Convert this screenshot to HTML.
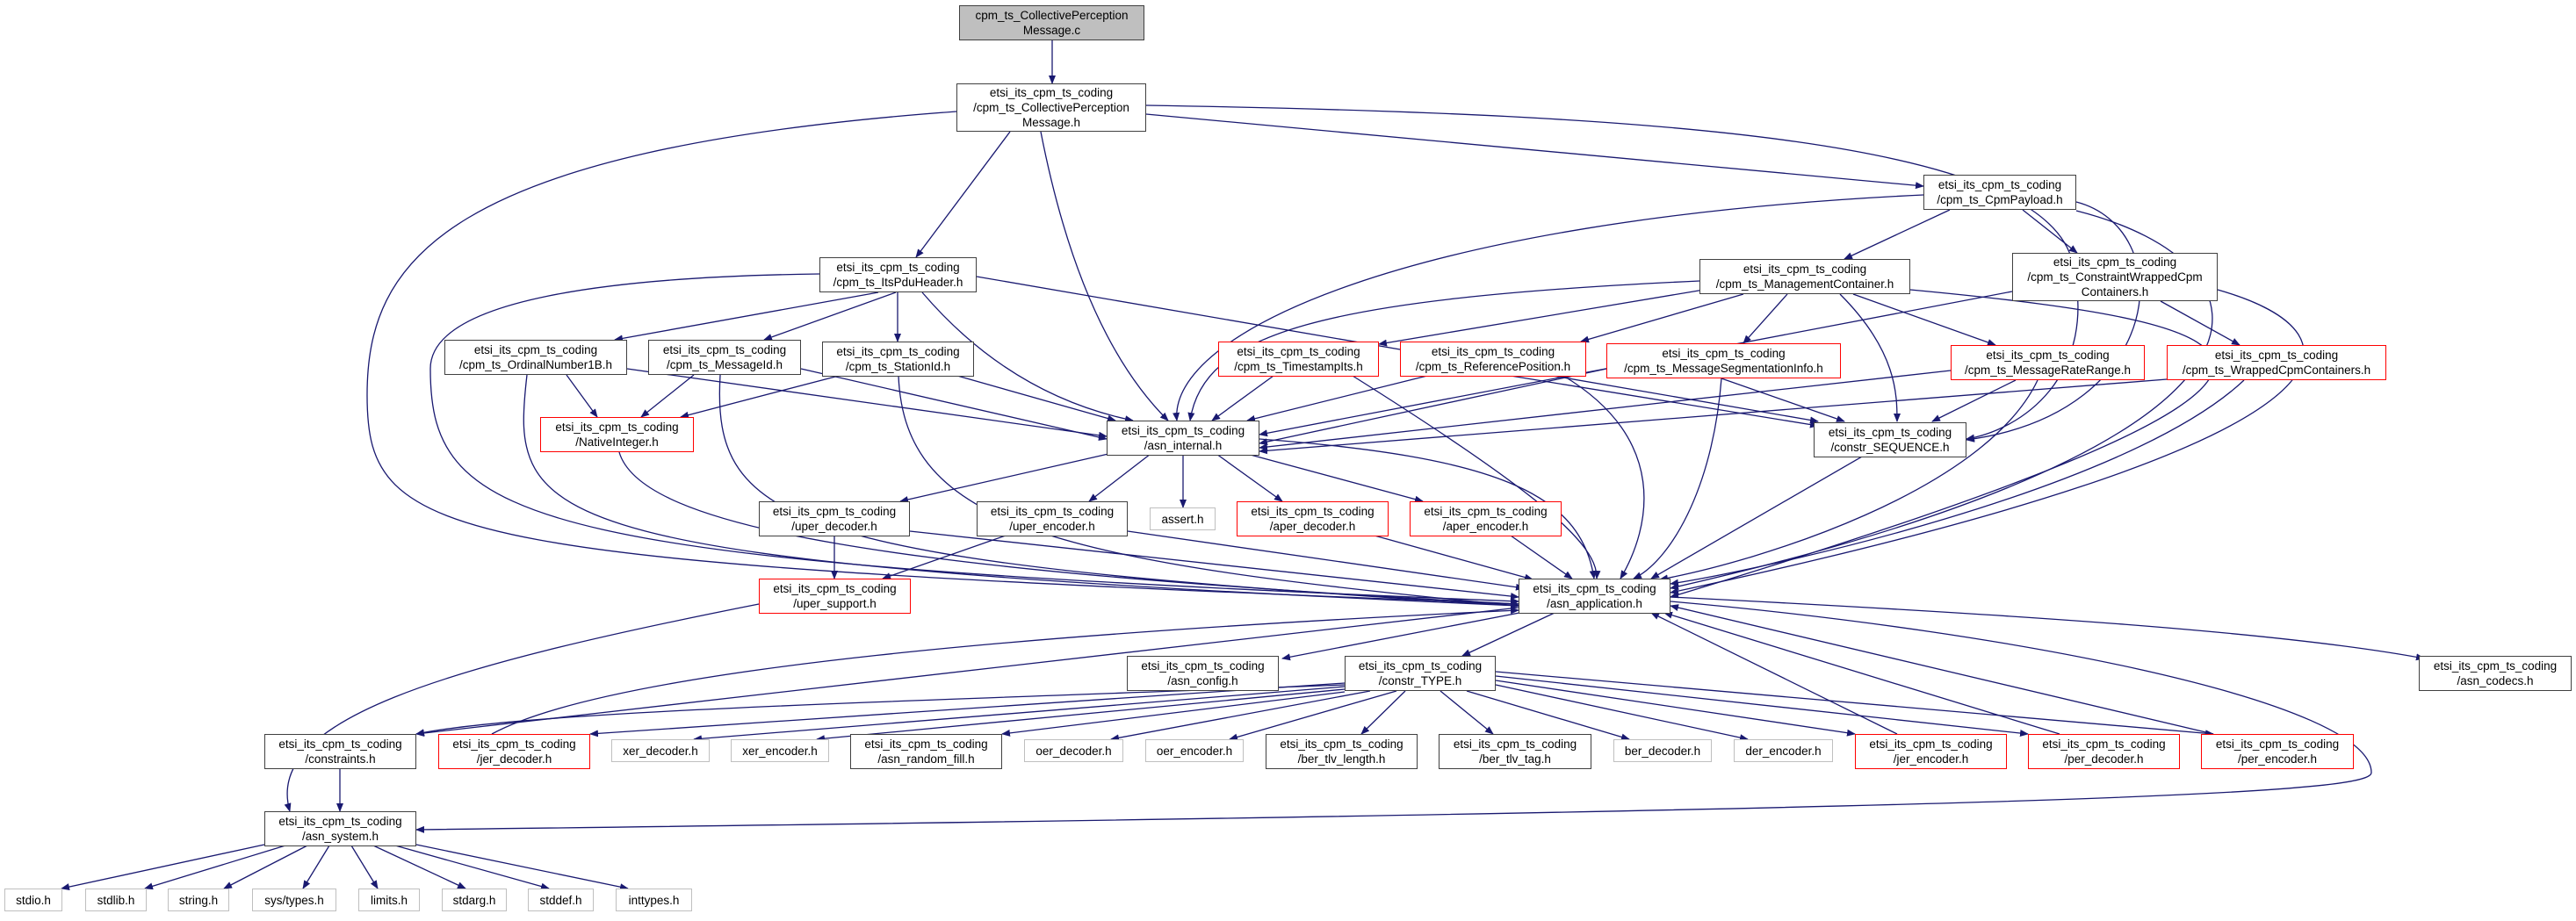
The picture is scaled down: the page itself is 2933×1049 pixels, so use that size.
<!DOCTYPE html>
<html><head><meta charset="utf-8"><style>
html,body{margin:0;padding:0;background:#fff;}
#c{position:relative;width:2933px;height:1049px;overflow:hidden;}
svg{position:absolute;left:0;top:0;}
.n{position:absolute;box-sizing:border-box;background:#fff;border:1.5px solid #404040;font-family:"Liberation Sans",sans-serif;font-size:13.5px;line-height:17px;color:#000;display:flex;align-items:center;justify-content:center;text-align:center;white-space:nowrap;}
.r{border-color:#ff0000;}
.g{border-color:#bfbfbf;}
.t{background:#bfbfbf;}
</style></head><body><div id="c">
<svg width="2933" height="1049" viewBox="0 0 2933 1049">
<defs><marker id="a" markerWidth="10" markerHeight="8" refX="9" refY="4" orient="auto" markerUnits="userSpaceOnUse"><path d="M0,0 L10,4 L0,8 z" fill="#191970"/></marker></defs>
<g fill="none" stroke="#191970" stroke-width="1.3" marker-end="url(#a)">
<path d="M1198 46 L1198 95"/>
<path d="M1150 150 L1043 293"/>
<path d="M1185 150 Q1230 380 1330 479"/>
<path d="M1089 127 C500 170 418 300 418 450 C418 620 500 640 1729 688"/>
<path d="M1305 130 L2190 212"/>
<path d="M1305 120 C1900 130 2330 160 2360 300 C2390 430 2300 490 2239 500"/>
<path d="M1000 333 L700 387"/>
<path d="M1020 333 L870 387"/>
<path d="M1022 333 L1022 389"/>
<path d="M1050 333 Q1150 450 1290 479"/>
<path d="M1112 315 L2070 480"/>
<path d="M933 312 C700 315 490 340 490 420 C490 600 600 640 1729 685"/>
<path d="M2220 239 L2100 295"/>
<path d="M2303 239 L2365 288"/>
<path d="M2190 222 C1600 250 1330 380 1340 479"/>
<path d="M2364 230 C2480 260 2470 470 2239 501"/>
<path d="M2364 240 C2600 300 2650 500 1902 670"/>
<path d="M1940 330 L1570 392"/>
<path d="M1985 335 L1800 389"/>
<path d="M2035 335 L1985 391"/>
<path d="M2110 335 L2272 393"/>
<path d="M1935 320 C1500 340 1370 380 1355 479"/>
<path d="M2095 335 C2160 400 2160 450 2160 480"/>
<path d="M2175 330 C2600 370 2760 420 1902 680"/>
<path d="M2460 343 L2550 393"/>
<path d="M2291 332 L1434 495"/>
<path d="M2525 330 C2700 380 2720 500 1902 675"/>
<path d="M645 427 L680 475"/>
<path d="M714 420 L1260 497"/>
<path d="M600 427 C580 600 600 640 1729 690"/>
<path d="M790 427 L730 475"/>
<path d="M912 420 L1260 500"/>
<path d="M820 427 C810 600 900 640 1729 690"/>
<path d="M955 428 L775 475"/>
<path d="M1090 428 L1270 479"/>
<path d="M1023 428 C1030 600 1200 640 1729 690"/>
<path d="M1450 428 L1380 479"/>
<path d="M1540 428 C1750 560 1820 620 1818 659"/>
<path d="M1625 428 L1420 479"/>
<path d="M1720 428 L2070 485"/>
<path d="M1780 428 C1900 500 1880 600 1845 659"/>
<path d="M1829 420 L1434 505"/>
<path d="M1960 431 L2100 480"/>
<path d="M1960 431 C1950 560 1900 640 1860 659"/>
<path d="M2221 422 L1434 510"/>
<path d="M2295 433 L2200 480"/>
<path d="M2320 433 C2260 560 2000 640 1890 660"/>
<path d="M2467 432 L1434 514"/>
<path d="M2555 433 C2420 560 2000 650 1902 665"/>
<path d="M705 515 C730 600 1000 650 1729 688"/>
<path d="M1262 517 L1025 571"/>
<path d="M1310 517 L1240 571"/>
<path d="M1347 517 L1347 578"/>
<path d="M1385 517 L1460 571"/>
<path d="M1420 517 L1620 571"/>
<path d="M1434 500 C1700 520 1800 560 1815 659"/>
<path d="M2120 520 L1880 659"/>
<path d="M950 610 L950 659"/>
<path d="M1036 605 L1729 680"/>
<path d="M1145 610 L1005 659"/>
<path d="M1284 605 L1735 670"/>
<path d="M1565 610 L1745 660"/>
<path d="M1720 610 L1790 659"/>
<path d="M864 688 C500 760 300 820 330 924"/>
<path d="M1730 698 L1460 750"/>
<path d="M1770 698 L1665 747"/>
<path d="M1902 680 C2300 700 2600 720 2760 750"/>
<path d="M1729 692 L474 836"/>
<path d="M1902 685 C2300 720 2700 800 2700 880 C2700 900 2500 920 474 945"/>
<path d="M1531 780 C1000 800 600 810 474 836"/>
<path d="M1531 778 L672 836"/>
<path d="M1531 782 L790 842"/>
<path d="M1531 785 L930 842"/>
<path d="M1531 788 L1141 836"/>
<path d="M1560 787 L1265 842"/>
<path d="M1590 787 L1400 842"/>
<path d="M1600 787 L1550 836"/>
<path d="M1640 787 L1700 836"/>
<path d="M1670 787 L1855 842"/>
<path d="M1703 780 L1990 842"/>
<path d="M1703 775 L2112 836"/>
<path d="M1703 770 L2309 836"/>
<path d="M1703 765 L2520 836"/>
<path d="M2160 836 L1880 698"/>
<path d="M2345 836 L1895 698"/>
<path d="M2520 836 L1902 690"/>
<path d="M560 836 C700 760 1200 720 1729 695"/>
<path d="M387 875 L387 924"/>
<path d="M301 962 L70 1012"/>
<path d="M325 963 L165 1012"/>
<path d="M350 963 L255 1012"/>
<path d="M375 963 L345 1012"/>
<path d="M400 963 L430 1012"/>
<path d="M425 963 L530 1012"/>
<path d="M450 963 L625 1012"/>
<path d="M474 962 L715 1012"/>
</g></svg>

<div class="n t" style="left:1092px;top:6px;width:211px;height:40px">cpm_ts_CollectivePerception<br>Message.c</div>
<div class="n" style="left:1089px;top:95px;width:216px;height:55px">etsi_its_cpm_ts_coding<br>/cpm_ts_CollectivePerception<br>Message.h</div>
<div class="n" style="left:933px;top:293px;width:179px;height:40px">etsi_its_cpm_ts_coding<br>/cpm_ts_ItsPduHeader.h</div>
<div class="n" style="left:2190px;top:199px;width:174px;height:40px">etsi_its_cpm_ts_coding<br>/cpm_ts_CpmPayload.h</div>
<div class="n" style="left:1935px;top:295px;width:240px;height:40px">etsi_its_cpm_ts_coding<br>/cpm_ts_ManagementContainer.h</div>
<div class="n" style="left:2291px;top:288px;width:234px;height:55px">etsi_its_cpm_ts_coding<br>/cpm_ts_ConstraintWrappedCpm<br>Containers.h</div>
<div class="n" style="left:506px;top:387px;width:208px;height:40px">etsi_its_cpm_ts_coding<br>/cpm_ts_OrdinalNumber1B.h</div>
<div class="n" style="left:738px;top:387px;width:174px;height:40px">etsi_its_cpm_ts_coding<br>/cpm_ts_MessageId.h</div>
<div class="n" style="left:936px;top:389px;width:173px;height:40px">etsi_its_cpm_ts_coding<br>/cpm_ts_StationId.h</div>
<div class="n r" style="left:1387px;top:389px;width:183px;height:40px">etsi_its_cpm_ts_coding<br>/cpm_ts_TimestampIts.h</div>
<div class="n r" style="left:1594px;top:389px;width:212px;height:40px">etsi_its_cpm_ts_coding<br>/cpm_ts_ReferencePosition.h</div>
<div class="n r" style="left:1829px;top:391px;width:267px;height:40px">etsi_its_cpm_ts_coding<br>/cpm_ts_MessageSegmentationInfo.h</div>
<div class="n r" style="left:2221px;top:393px;width:221px;height:40px">etsi_its_cpm_ts_coding<br>/cpm_ts_MessageRateRange.h</div>
<div class="n r" style="left:2467px;top:393px;width:250px;height:40px">etsi_its_cpm_ts_coding<br>/cpm_ts_WrappedCpmContainers.h</div>
<div class="n r" style="left:615px;top:475px;width:175px;height:40px">etsi_its_cpm_ts_coding<br>/NativeInteger.h</div>
<div class="n" style="left:1260px;top:479px;width:174px;height:40px">etsi_its_cpm_ts_coding<br>/asn_internal.h</div>
<div class="n" style="left:2065px;top:481px;width:174px;height:40px">etsi_its_cpm_ts_coding<br>/constr_SEQUENCE.h</div>
<div class="n" style="left:864px;top:571px;width:172px;height:40px">etsi_its_cpm_ts_coding<br>/uper_decoder.h</div>
<div class="n" style="left:1112px;top:571px;width:172px;height:40px">etsi_its_cpm_ts_coding<br>/uper_encoder.h</div>
<div class="n g" style="left:1309px;top:578px;width:75px;height:26px">assert.h</div>
<div class="n r" style="left:1408px;top:571px;width:173px;height:40px">etsi_its_cpm_ts_coding<br>/aper_decoder.h</div>
<div class="n r" style="left:1605px;top:571px;width:173px;height:40px">etsi_its_cpm_ts_coding<br>/aper_encoder.h</div>
<div class="n r" style="left:864px;top:659px;width:173px;height:40px">etsi_its_cpm_ts_coding<br>/uper_support.h</div>
<div class="n" style="left:1729px;top:659px;width:173px;height:40px">etsi_its_cpm_ts_coding<br>/asn_application.h</div>
<div class="n" style="left:1283px;top:747px;width:173px;height:40px">etsi_its_cpm_ts_coding<br>/asn_config.h</div>
<div class="n" style="left:1531px;top:747px;width:172px;height:40px">etsi_its_cpm_ts_coding<br>/constr_TYPE.h</div>
<div class="n" style="left:2754px;top:747px;width:174px;height:40px">etsi_its_cpm_ts_coding<br>/asn_codecs.h</div>
<div class="n" style="left:301px;top:836px;width:173px;height:40px">etsi_its_cpm_ts_coding<br>/constraints.h</div>
<div class="n r" style="left:499px;top:836px;width:173px;height:40px">etsi_its_cpm_ts_coding<br>/jer_decoder.h</div>
<div class="n g" style="left:696px;top:842px;width:112px;height:26px">xer_decoder.h</div>
<div class="n g" style="left:832px;top:842px;width:112px;height:26px">xer_encoder.h</div>
<div class="n" style="left:968px;top:836px;width:173px;height:40px">etsi_its_cpm_ts_coding<br>/asn_random_fill.h</div>
<div class="n g" style="left:1166px;top:842px;width:113px;height:26px">oer_decoder.h</div>
<div class="n g" style="left:1304px;top:842px;width:112px;height:26px">oer_encoder.h</div>
<div class="n" style="left:1441px;top:836px;width:173px;height:40px">etsi_its_cpm_ts_coding<br>/ber_tlv_length.h</div>
<div class="n" style="left:1638px;top:836px;width:174px;height:40px">etsi_its_cpm_ts_coding<br>/ber_tlv_tag.h</div>
<div class="n g" style="left:1837px;top:842px;width:112px;height:26px">ber_decoder.h</div>
<div class="n g" style="left:1974px;top:842px;width:113px;height:26px">der_encoder.h</div>
<div class="n r" style="left:2112px;top:836px;width:173px;height:40px">etsi_its_cpm_ts_coding<br>/jer_encoder.h</div>
<div class="n r" style="left:2309px;top:836px;width:173px;height:40px">etsi_its_cpm_ts_coding<br>/per_decoder.h</div>
<div class="n r" style="left:2506px;top:836px;width:174px;height:40px">etsi_its_cpm_ts_coding<br>/per_encoder.h</div>
<div class="n" style="left:301px;top:924px;width:173px;height:40px">etsi_its_cpm_ts_coding<br>/asn_system.h</div>
<div class="n g" style="left:5px;top:1012px;width:66px;height:26px">stdio.h</div>
<div class="n g" style="left:97px;top:1012px;width:70px;height:26px">stdlib.h</div>
<div class="n g" style="left:191px;top:1012px;width:70px;height:26px">string.h</div>
<div class="n g" style="left:287px;top:1012px;width:96px;height:26px">sys/types.h</div>
<div class="n g" style="left:408px;top:1012px;width:70px;height:26px">limits.h</div>
<div class="n g" style="left:503px;top:1012px;width:74px;height:26px">stdarg.h</div>
<div class="n g" style="left:601px;top:1012px;width:75px;height:26px">stddef.h</div>
<div class="n g" style="left:701px;top:1012px;width:87px;height:26px">inttypes.h</div>
</div></body></html>
